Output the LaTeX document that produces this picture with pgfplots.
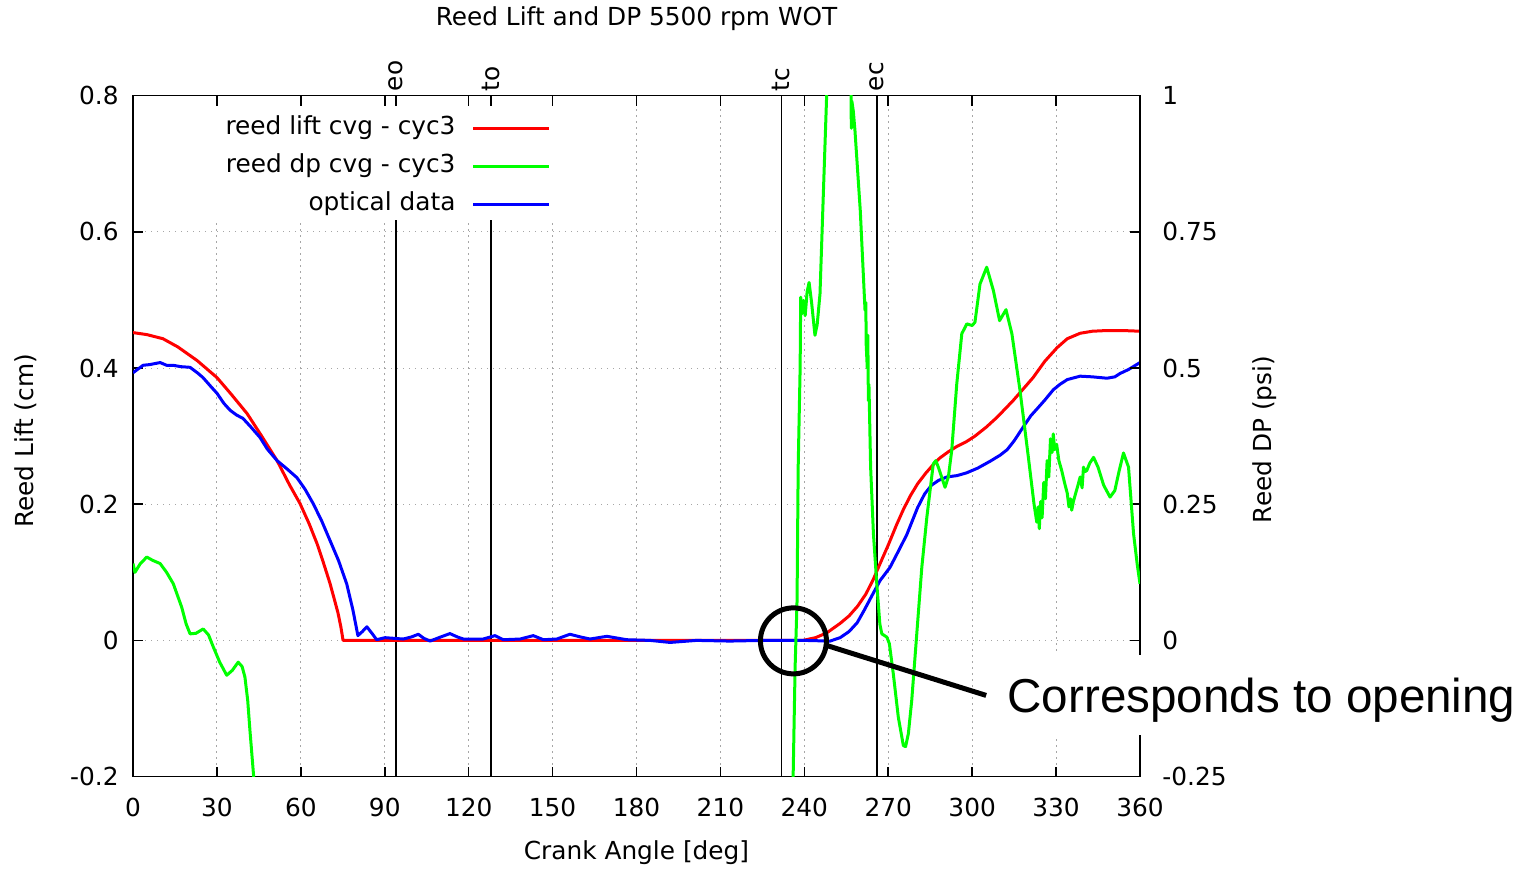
\documentclass[border=0pt]{standalone}
\usepackage{fontspec}
\setmainfont{DejaVu Sans}
\newfontfamily\arialfont{Liberation Sans}
\usepackage{pgfplots}
\usepackage{pgfplotstable}
\pgfplotsset{compat=1.18}

\definecolor{LiftRed}{RGB}{255,0,0}
\definecolor{DpGreen}{RGB}{0,255,0}
\definecolor{OptBlue}{RGB}{0,0,255}

% reed lift cvg - cyc3 (cm)
\pgfplotstableread{
x y
0 0.452
5 0.449
10.7 0.443
16 0.431
22.9 0.411
30 0.386
35 0.362
40.8 0.333
46 0.300
51.5 0.264
56 0.228
59.7 0.201
63 0.171
65.8 0.142
68 0.115
70.4 0.084
72 0.060
73.3 0.040
74.3 0.020
75.1 0
150 0
239.5 0
244 0.004
248 0.011
252.8 0.025
256 0.036
259 0.050
262 0.068
264.7 0.090
267 0.112
270 0.140
273 0.170
275.5 0.193
278 0.213
280.5 0.230
283.5 0.246
286.5 0.260
288.5 0.268
291.5 0.277
294.6 0.285
298 0.292
301 0.300
305 0.313
309 0.328
314.6 0.352
318 0.368
321.8 0.386
326 0.410
330.4 0.430
334 0.443
338.6 0.451
343 0.454
348 0.455
354 0.455
360 0.454
}\liftdata

% optical data (cm)
\pgfplotstableread{
x y
0 0.393
3.6 0.404
6 0.405
9.7 0.408
12 0.404
14.3 0.404
17 0.402
20.4 0.401
23 0.393
25 0.386
28 0.372
30 0.363
32.5 0.348
34.7 0.338
37 0.331
39.3 0.326
42 0.314
45.4 0.298
48 0.281
51.5 0.264
55 0.252
58.6 0.239
61.5 0.222
64.4 0.201
67.5 0.175
70.4 0.147
73.5 0.117
76.4 0.083
78.6 0.045
80.4 0.007
82 0.013
83.6 0.020
85.5 0.010
87.1 0.001
90.1 0.004
96.6 0.002
99.5 0.005
102 0.009
104 0.003
106.2 -0.001
110 0.005
113.3 0.010
116 0.005
118.1 0.002
125.2 0.002
129.4 0.007
132.4 0.001
138.4 0.002
143.1 0.007
146.7 0.001
151.5 0.002
156.2 0.009
160 0.005
163.4 0.002
169.4 0.006
176.5 0.001
184.8 0
192 -0.003
201.5 0
213.4 -0.001
225.4 0
240 0
249.2 -0.001
252.8 0.004
256 0.013
258.9 0.026
261.5 0.045
264.6 0.069
267.1 0.088
270.6 0.107
273.5 0.130
276.6 0.155
280.5 0.195
283 0.215
285.5 0.228
288 0.235
291 0.240
294.6 0.242
298 0.246
302 0.253
306.4 0.263
310 0.272
312.5 0.280
315 0.293
318.2 0.313
321 0.330
323.2 0.340
326 0.353
329 0.368
331.4 0.376
334 0.383
338.6 0.388
343 0.387
348.2 0.385
351 0.387
352.9 0.392
356 0.398
360 0.408
}\opticaldata

% reed dp cvg - cyc3 (psi)
\pgfplotstableread{
x y
0 0.141
0.7 0.125
2.5 0.140
4.9 0.153
7 0.147
9.7 0.141
12 0.125
14.4 0.104
17.4 0.061
19 0.030
20.4 0.012
22.5 0.013
25.1 0.021
27 0.010
28.7 -0.012
31 -0.040
33.5 -0.064
35.5 -0.055
37.6 -0.040
39 -0.048
40.0 -0.067
41 -0.110
41.8 -0.165
43.2 -0.254
44 -0.320
235.5 -0.320
236.0 -0.250
236.7 -0.050
237.4 0.073
237.8 0.317
238.5 0.500
238.7 0.630
239.3 0.600
239.7 0.624
240.3 0.596
241.0 0.640
241.7 0.657
242.6 0.620
243.8 0.560
244.6 0.580
245.6 0.636
246.8 0.820
248.0 1.003
248.8 1.200
256 1.200
256.7 1.003
256.8 0.940
257.0 0.990
257.5 0.972
258.1 0.936
260.0 0.789
261.7 0.606
262.0 0.620
262.1 0.545
262.5 0.500
262.7 0.560
262.9 0.440
263.1 0.470
263.7 0.318
264.7 0.196
265.9 0.104
267.0 0.030
267.7 0.012
269.5 0.006
270.4 -0.006
271.8 -0.061
273.6 -0.141
275.4 -0.193
276.2 -0.195
277.2 -0.171
278.4 -0.110
280.2 0.012
282.0 0.134
283.8 0.226
286.1 0.324
287.0 0.330
287.9 0.318
290.3 0.281
291.5 0.300
292.7 0.349
294.5 0.471
296.3 0.563
298.1 0.581
300.0 0.578
301.0 0.584
302.8 0.654
305.2 0.685
307.6 0.642
309.8 0.587
312.1 0.607
314.2 0.563
317.1 0.459
320.1 0.336
322.1 0.251
323.1 0.217
323.6 0.245
324.0 0.205
324.5 0.255
325.0 0.225
325.6 0.290
326.2 0.260
326.8 0.330
327.4 0.300
328.0 0.370
328.6 0.345
329.0 0.379
329.5 0.350
330.2 0.360
331.0 0.330
332.0 0.312
333 0.290
334 0.270
334.6 0.245
335.2 0.260
335.6 0.239
336.2 0.255
337 0.270
338.0 0.288
338.6 0.300
339.3 0.280
339.8 0.318
340.4 0.310
341 0.312
342 0.325
343.4 0.336
345 0.318
347 0.285
349.3 0.263
351 0.275
352.5 0.310
354.1 0.344
355.9 0.318
357.7 0.196
359 0.140
360 0.104
}\dpdata

\pgfplotsset{
  every axis/.append style={
    width=503.5pt, height=340.5pt, scale only axis,
    xmin=0, xmax=360,
    tick align=inside, major tick length=5pt,
    axis line style={line width=0.8pt, black},
    tick style={line width=0.8pt, black},
    tick label style={font=\fontsize{12.4}{14}\selectfont},
    label style={font=\fontsize{12.4}{14}\selectfont},
    /pgf/number format/assume math mode=true,
    clip mode=individual,
  },
}

\begin{document}
\begin{tikzpicture}
\begin{axis}[
  ymin=-0.2, ymax=0.8,
  xtick={0,30,...,360},
  ytick={-0.2,0,0.2,0.4,0.6,0.8},
  xtick pos=both, xticklabel pos=lower, ytick pos=left,
  yticklabel style={/pgf/number format/fixed, /pgf/number format/precision=2, xshift=-3.7pt},
  xticklabel style={yshift=-7pt},
  grid=major,
  grid style={gray!70, dash pattern=on 0.7pt off 2.3pt, line width=0.5pt},
  xlabel={Crank Angle [deg]},
  ylabel={Reed Lift (cm)},
  xlabel style={at={(axis description cs:0.5,-0.112)}, anchor=center},
  ylabel style={at={(axis description cs:-0.107,0.493)}, anchor=center},
  legend plot pos=right,
  legend cell align=right,
  legend image code/.code={\draw[#1] (0pt,0pt) -- (38pt,0pt);},
  legend style={at={(axis description cs:0.415,0.9696)}, anchor=north east,
    draw=none, fill=none, inner sep=0pt, row sep=7pt, column sep=8pt,
    font=\fontsize{12.4}{14}\selectfont,
    nodes={inner sep=0pt, text height=9pt, text depth=3pt}},
]
% event markers
\addplot[black, line width=0.6pt, forget plot] coordinates {(94,-0.2) (94,0.8)};
\addplot[black, line width=0.6pt, forget plot] coordinates {(128,-0.2) (128,0.8)};
\addplot[black, line width=0.6pt, forget plot] coordinates {(231.7,-0.2) (231.7,0.8)};
\addplot[black, line width=0.6pt, forget plot] coordinates {(266,-0.2) (266,0.8)};
% opaque key box
\fill[white] (axis cs:0.6,0.617) rectangle (axis cs:153,0.7853);

\addplot[LiftRed, line width=1.5pt, line join=round] table[x=x,y=y] {\liftdata};
\addlegendentry{reed lift cvg - cyc3}
\addlegendimage{DpGreen, line width=1.5pt}
\addlegendentry{reed dp cvg - cyc3}
\addplot[OptBlue, line width=1.5pt, line join=round] table[x=x,y=y] {\opticaldata};
\addlegendentry{optical data}

\node[font=\fontsize{12.4}{14}\selectfont] at (axis description cs:0.5,1.113) {Reed Lift and DP 5500 rpm WOT};

\node[rotate=90, anchor=west, inner sep=0pt, font=\fontsize{12.4}{14}\selectfont] at (axis cs:94,0.8) [xshift=2pt] {eo};
\node[rotate=90, anchor=west, inner sep=0pt, font=\fontsize{12.4}{14}\selectfont] at (axis cs:128,0.8) [xshift=2pt] {to};
\node[rotate=90, anchor=west, inner sep=0pt, font=\fontsize{12.4}{14}\selectfont] at (axis cs:231.7,0.8) [xshift=2pt] {tc};
\node[rotate=90, anchor=west, inner sep=0pt, font=\fontsize{12.4}{14}\selectfont] at (axis cs:266,0.8) [xshift=2pt] {ec};

\coordinate (circC) at (axis cs:236.1,-0.0007);
\coordinate (lineA) at (axis cs:247.9,-0.0073);
\coordinate (lineB) at (axis cs:305.0,-0.0808);
\coordinate (boxA) at (axis cs:308.2,-0.0220);
\coordinate (boxB) at (axis cs:495.9,-0.1395);
\coordinate (txt) at (axis cs:312.5,-0.1053);
\path (axis description cs:-0.1321,-0.1351) (axis description cs:1.3903,1.1395);
\end{axis}

\begin{axis}[
  ymin=-0.25, ymax=1,
  axis x line=none, axis y line*=right,
  ytick={-0.25,0,0.25,0.5,0.75,1},
  yticklabel style={/pgf/number format/fixed, /pgf/number format/precision=2, xshift=7.7pt},
  ylabel={Reed DP (psi)},
  ylabel style={at={(axis description cs:1.124,0.495)}, anchor=center},
]
\addplot[DpGreen, line width=1.5pt, line join=round] table[x=x,y=y] {\dpdata};
\end{axis}

% annotation
\fill[white] (boxA) rectangle (boxB);
\draw[black, line width=2.5pt] (circC) circle[radius=16.5pt];
\draw[black, line width=2.5pt] (lineA) -- (lineB);
\node[anchor=base west, inner sep=0pt, font=\arialfont\fontsize{23.8}{28}\selectfont] at (txt) {Corresponds to opening};
\end{tikzpicture}
\end{document}
